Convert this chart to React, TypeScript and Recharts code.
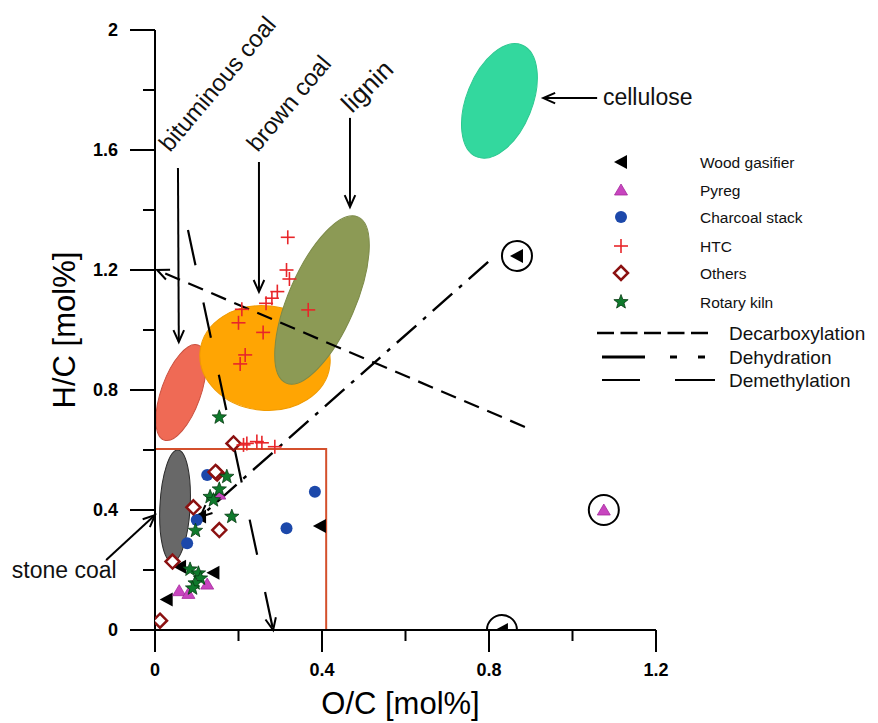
import React from 'react';
import { ScatterChart, Scatter, XAxis, YAxis, ReferenceLine, ReferenceArea, ReferenceDot } from 'recharts';

// ---------- axis ticks ----------
const xTicks = [0, 0.2, 0.4, 0.6, 0.8, 1.0, 1.2];
const yTicks = [0, 0.2, 0.4, 0.6, 0.8, 1.0, 1.2, 1.4, 1.6, 1.8, 2.0];
const majorStep = 0.4;

// ---------- series (O/C, H/C) ----------
const woodGasifier = [
  { x: 0.395, y: 0.347 }, { x: 0.140, y: 0.191 }, { x: 0.060, y: 0.211 }, { x: 0.028, y: 0.102 },
  { x: 0.108, y: 0.378 }, { x: 0.867, y: 1.247 }, { x: 0.831, y: 0.0 },
];
const pyreg = [
  { x: 0.058, y: 0.131 }, { x: 0.080, y: 0.122 }, { x: 0.125, y: 0.153 }, { x: 0.154, y: 0.453 }, { x: 1.075, y: 0.4 },
];
const charcoalStack = [
  { x: 0.125, y: 0.517 }, { x: 0.383, y: 0.461 }, { x: 0.315, y: 0.339 }, { x: 0.077, y: 0.289 }, { x: 0.100, y: 0.367 },
];
const htc = [
  { x: 0.318, y: 1.309 }, { x: 0.315, y: 1.2 }, { x: 0.322, y: 1.17 }, { x: 0.293, y: 1.128 }, { x: 0.280, y: 1.106 },
  { x: 0.266, y: 1.089 }, { x: 0.367, y: 1.067 }, { x: 0.208, y: 1.069 }, { x: 0.200, y: 1.024 }, { x: 0.259, y: 0.992 },
  { x: 0.216, y: 0.917 }, { x: 0.204, y: 0.887 },
  { x: 0.212, y: 0.617 }, { x: 0.220, y: 0.622 }, { x: 0.244, y: 0.628 }, { x: 0.256, y: 0.624 }, { x: 0.287, y: 0.611 },
];
const others = [
  { x: 0.188, y: 0.622 }, { x: 0.149, y: 0.522 }, { x: 0.145, y: 0.527 }, { x: 0.092, y: 0.409 },
  { x: 0.154, y: 0.333 }, { x: 0.042, y: 0.228 }, { x: 0.012, y: 0.031 },
];
const rotaryKiln = [
  { x: 0.172, y: 0.511 }, { x: 0.154, y: 0.469 }, { x: 0.132, y: 0.444 }, { x: 0.140, y: 0.433 },
  { x: 0.184, y: 0.378 }, { x: 0.097, y: 0.331 }, { x: 0.084, y: 0.202 }, { x: 0.104, y: 0.189 },
  { x: 0.109, y: 0.172 }, { x: 0.096, y: 0.156 }, { x: 0.090, y: 0.139 }, { x: 0.154, y: 0.709 },
];
const circledPoints = [{ x: 0.867, y: 1.247 }, { x: 1.075, y: 0.4 }, { x: 0.831, y: 0.0 }];

// ---------- material regions: major-axis end points (O/C, H/C) ----------
const regions = [
  { name: 'cellulose', x1: 0.879, y1: 1.95, x2: 0.771, y2: 1.577, ratio: 0.545 },
  { name: 'salmon', x1: 0.103, y1: 0.95, x2: 0.0216, y2: 0.633, ratio: 0.39 },
  { name: 'brown', x1: 0.108, y1: 0.930, x2: 0.419, y2: 0.883, ratio: 0.8 },
  { name: 'lignin', x1: 0.486, y1: 1.377, x2: 0.314, y2: 0.823, ratio: 0.37 },
  { name: 'stone', x1: 0.055, y1: 0.6, x2: 0.041, y2: 0.227, ratio: 0.27 },
];
const regionStyle: Record<string, { fill: string; stroke: string }> = {
  cellulose: { fill: '#33d89e', stroke: '#2cc890' },
  salmon: { fill: '#ef6a55', stroke: '#c9503f' },
  brown: { fill: '#ffa503', stroke: '#f09a00' },
  lignin: { fill: '#8c9a55', stroke: '#7c8a48' },
  stone: { fill: '#686868', stroke: '#2a2a2a' },
};

// ---------- reaction pathways (from, to) ----------
const pathways = [
  { name: 'Decarboxylation', x1: 0.886, y1: 0.677, x2: 0.005, y2: 1.2 },
  { name: 'Dehydration', x1: 0.798, y1: 1.227, x2: 0.108, y2: 0.377 },
  { name: 'Demethylation', x1: 0.079, y1: 1.333, x2: 0.283, y2: 0.0 },
];
const pathStyle: Record<string, { dash: string; width: number }> = {
  Decarboxylation: { dash: '16 9', width: 2.2 },
  Dehydration: { dash: '26 9 4 9', width: 2.4 },
  Demethylation: { dash: '36 38', width: 2.2 },
};

// ---------- annotation arrows & labels ----------
const pointerArrows = [
  { x1: 0.055, y1: 1.54, x2: 0.057, y2: 0.96 },
  { x1: 0.249, y1: 1.56, x2: 0.249, y2: 1.127 },
  { x1: 0.467, y1: 1.707, x2: 0.467, y2: 1.41 },
  { x1: 1.059, y1: 1.773, x2: 0.93, y2: 1.773 },
  { x1: -0.117, y1: 0.233, x2: 0.0, y2: 0.383 },
];
const annotations = [
  { text: 'bituminous coal', x: 0.036, y: 1.59, angle: -50, size: 24 },
  { text: 'brown coal', x: 0.246, y: 1.59, angle: -50, size: 24 },
  { text: 'lignin', x: 0.472, y: 1.72, angle: -45, size: 26 },
  { text: 'cellulose', x: 1.073, y: 1.75, angle: 0, size: 23 },
  { text: 'stone coal', x: -0.343, y: 0.173, angle: 0, size: 23 },
];

const legendMarkers = ['Wood gasifier', 'Pyreg', 'Charcoal stack', 'HTC', 'Others', 'Rotary kiln'];
const legendLines = ['Decarboxylation', 'Dehydration', 'Demethylation'];

const FONT = '"Liberation Sans", Arial, sans-serif';

// ---------- marker shapes ----------
const TriLeft = ({ cx, cy, fill = '#000' }: any) => (
  <polygon points={`${cx - 7},${cy} ${cx + 6},${cy - 7} ${cx + 6},${cy + 7}`} fill={fill} />
);
const TriUp = ({ cx, cy }: any) => (
  <polygon points={`${cx},${cy - 6} ${cx - 6.5},${cy + 5} ${cx + 6.5},${cy + 5}`} fill="#c845bf" stroke="#a52a9c" strokeWidth={0.8} />
);
const Dot = ({ cx, cy }: any) => <circle cx={cx} cy={cy} r={6} fill="#1c48aa" />;
const Plus = ({ cx, cy }: any) => (
  <g stroke="#e8262a" strokeWidth={1.6}>
    <line x1={cx - 7} x2={cx + 7} y1={cy} y2={cy} />
    <line x1={cx} x2={cx} y1={cy - 7} y2={cy + 7} />
  </g>
);
const Diamond = ({ cx, cy }: any) => (
  <polygon points={`${cx},${cy - 7} ${cx + 7},${cy} ${cx},${cy + 7} ${cx - 7},${cy}`} fill="#fff" stroke="#8b1111" strokeWidth={2.5} />
);
const Star = ({ cx, cy, R = 7.5 }: any) => {
  const pts: string[] = [];
  for (let i = 0; i < 10; i++) {
    const r = i % 2 === 0 ? R : R * 0.42;
    const a = -Math.PI / 2 + (i * Math.PI) / 5;
    pts.push(`${cx + r * Math.cos(a)},${cy + r * Math.sin(a)}`);
  }
  return <polygon points={pts.join(' ')} fill="#0f7a2c" stroke="#063a12" strokeWidth={0.8} />;
};
const Ring = ({ cx, cy }: any) => <circle cx={cx} cy={cy} r={15} fill="none" stroke="#000" strokeWidth={2} />;

const markerFor: Record<string, any> = {
  'Wood gasifier': TriLeft,
  Pyreg: TriUp,
  'Charcoal stack': Dot,
  HTC: Plus,
  Others: Diamond,
  'Rotary kiln': Star,
};

// ---------- reference shapes ----------
const EllipseShape = (p: any) => {
  const { x1, y1, x2, y2, ratio, fill, stroke } = p;
  if ([x1, y1, x2, y2].some((v) => typeof v !== 'number' || isNaN(v))) return <g />;
  const cx = (x1 + x2) / 2;
  const cy = (y1 + y2) / 2;
  const a = Math.hypot(x2 - x1, y2 - y1) / 2;
  const ang = (Math.atan2(y2 - y1, x2 - x1) * 180) / Math.PI;
  return <ellipse cx={cx} cy={cy} rx={a} ry={a * ratio} transform={`rotate(${ang} ${cx} ${cy})`} fill={fill} stroke={stroke} strokeWidth={1} />;
};

const ArrowShape = (p: any) => {
  const { x1, y1, x2, y2, dash, width = 2, head = true } = p;
  if ([x1, y1, x2, y2].some((v) => typeof v !== 'number' || isNaN(v))) return <g />;
  const ang = Math.atan2(y2 - y1, x2 - x1);
  const L = 13;
  const spread = 0.42;
  const hx1 = x2 - L * Math.cos(ang - spread);
  const hy1 = y2 - L * Math.sin(ang - spread);
  const hx2 = x2 - L * Math.cos(ang + spread);
  const hy2 = y2 - L * Math.sin(ang + spread);
  return (
    <g>
      <line x1={x1} y1={y1} x2={x2} y2={y2} stroke="#000" strokeWidth={width} strokeDasharray={dash} />
      {head && <polyline points={`${hx1},${hy1} ${x2},${y2} ${hx2},${hy2}`} fill="none" stroke="#000" strokeWidth={2} />}
    </g>
  );
};

// ---------- axis ticks & titles ----------
const fmt = (v: number) => String(Number(v.toFixed(1)));
const isMajor = (v: number) => Math.abs(v / majorStep - Math.round(v / majorStep)) < 1e-6;

const YTick = (props: any) => {
  const { x, y, payload } = props;
  const v = payload.value;
  const major = isMajor(v);
  return (
    <g>
      <line x1={x - (major ? 25 : 12)} x2={x} y1={y} y2={y} stroke="#000" strokeWidth={2} />
      {major && (
        <text x={x - 37} y={y} textAnchor="end" dominantBaseline="central" fontFamily={FONT} fontWeight="bold" fontSize={18} fill="#000">
          {fmt(v)}
        </text>
      )}
    </g>
  );
};
const XTick = (props: any) => {
  const { x, y, payload } = props;
  const v = payload.value;
  const major = isMajor(v);
  return (
    <g>
      <line x1={x} x2={x} y1={y} y2={y + (major ? 22 : 11)} stroke="#000" strokeWidth={2} />
      {major && (
        <text x={x} y={y + 40} textAnchor="middle" dominantBaseline="central" fontFamily={FONT} fontWeight="bold" fontSize={18} fill="#000">
          {fmt(v)}
        </text>
      )}
    </g>
  );
};
const XTitle = (props: any) => {
  const vb = props.viewBox || { x: 147, y: 622, width: 501, height: 60 };
  return (
    <text x={vb.x + vb.width / 2 - 5} y={vb.y + 84} textAnchor="middle" fontFamily={FONT} fontSize={31} fill="#000">
      O/C [mol%]
    </text>
  );
};
const YTitle = (props: any) => {
  const vb = props.viewBox || { x: 27, y: 22, width: 120, height: 600 };
  const cx = vb.x + 40;
  const cy = vb.y + vb.height / 2;
  return (
    <text x={cx} y={cy} transform={`rotate(-90 ${cx} ${cy})`} textAnchor="middle" fontFamily={FONT} fontSize={31} fill="#000">
      H/C [mol%]
    </text>
  );
};

const Legend = () => (
  <svg width={290} height={260} style={{ position: 'absolute', left: 572, top: 132 }}>
    {legendMarkers.map((name, i) => {
      const M = markerFor[name];
      const y = [22, 50, 77, 106, 133, 162][i];
      return (
        <g key={name}>
          <M cx={41} cy={y} />
          <text x={120} y={y} dominantBaseline="central" fontFamily={FONT} fontSize={15.5} fill="#111">
            {name}
          </text>
        </g>
      );
    })}
    {legendLines.map((name, i) => {
      const y = [193, 217, 240][i];
      let line;
      if (name === 'Decarboxylation') line = <line x1={17} x2={128} y1={y} y2={y} stroke="#000" strokeWidth={2.5} strokeDasharray="17 6.5" />;
      else if (name === 'Dehydration') line = <line x1={22} x2={125} y1={y} y2={y} stroke="#000" strokeWidth={3.2} strokeDasharray="43 25 7 21 7" />;
      else line = <line x1={22} x2={135} y1={y} y2={y} stroke="#000" strokeWidth={2} strokeDasharray="38 35 40" />;
      return (
        <g key={name}>
          {line}
          <text x={149} y={y} dominantBaseline="central" fontFamily={FONT} fontSize={19} fill="#111">
            {name}
          </text>
        </g>
      );
    })}
  </svg>
);

export default function App() {
  const series: [string, any[]][] = [
    ['Wood gasifier', woodGasifier],
    ['Pyreg', pyreg],
    ['Charcoal stack', charcoalStack],
    ['Others', others],
    ['Rotary kiln', rotaryKiln],
    ['HTC', htc],
  ];
  return (
    <div style={{ position: 'relative', width: 870, height: 715 }}>
      <ScatterChart width={870} height={715} margin={{ top: 22, right: 222, bottom: 33, left: 27 }}>
        <XAxis
          type="number"
          dataKey="x"
          domain={[0, 1.2]}
          ticks={xTicks}
          allowDataOverflow
          height={60}
          tickSize={0}
          tickMargin={0}
          tickLine={false}
          tick={<XTick />}
          axisLine={{ stroke: '#000', strokeWidth: 2 }}
          label={<XTitle />}
          interval={0}
        />
        <YAxis
          type="number"
          dataKey="y"
          domain={[0, 2]}
          ticks={yTicks}
          allowDataOverflow
          width={120}
          tickSize={0}
          tickMargin={0}
          tickLine={false}
          tick={<YTick />}
          axisLine={{ stroke: '#000', strokeWidth: 2 }}
          label={<YTitle />}
          interval={0}
        />
        {regions.map((r) => (
          <ReferenceLine
            key={r.name}
            segment={[{ x: r.x1, y: r.y1 }, { x: r.x2, y: r.y2 }]}
            ifOverflow="visible"
            zIndex={50}
            shape={(p: any) => <EllipseShape {...p} ratio={r.ratio} fill={regionStyle[r.name].fill} stroke={regionStyle[r.name].stroke} />}
          />
        ))}
        <ReferenceArea x1={0} x2={0.41} y1={0} y2={0.603} ifOverflow="visible" fill="none" fillOpacity={0} stroke="#d4502c" strokeWidth={2} zIndex={60} />
        {pathways.map((l) => (
          <ReferenceLine
            key={l.name}
            segment={[{ x: l.x1, y: l.y1 }, { x: l.x2, y: l.y2 }]}
            ifOverflow="visible"
            zIndex={550}
            shape={(p: any) => <ArrowShape {...p} dash={pathStyle[l.name].dash} width={pathStyle[l.name].width} />}
          />
        ))}
        {pointerArrows.map((a, i) => (
          <ReferenceLine
            key={'pa' + i}
            segment={[{ x: a.x1, y: a.y1 }, { x: a.x2, y: a.y2 }]}
            ifOverflow="visible"
            zIndex={550}
            shape={(p: any) => <ArrowShape {...p} width={2} />}
          />
        ))}
        {series.map(([name, data]) => {
          const M = markerFor[name];
          return (
            <Scatter key={name} name={name} data={data} isAnimationActive={false} shape={(p: any) => <M cx={p.cx} cy={p.cy} />} />
          );
        })}
        <Scatter name="circled" data={circledPoints} isAnimationActive={false} shape={(p: any) => <Ring cx={p.cx} cy={p.cy} />} />
        {annotations.map((a) => (
          <ReferenceDot
            key={a.text}
            x={a.x}
            y={a.y}
            r={0}
            ifOverflow="visible"
            zIndex={700}
            shape={(p: any) => (
              <text
                x={p.cx}
                y={p.cy}
                transform={a.angle ? `rotate(${a.angle} ${p.cx} ${p.cy})` : undefined}
                fontFamily={FONT}
                fontSize={a.size}
                fill="#111"
              >
                {a.text}
              </text>
            )}
          />
        ))}
      </ScatterChart>
      <Legend />
    </div>
  );
}
